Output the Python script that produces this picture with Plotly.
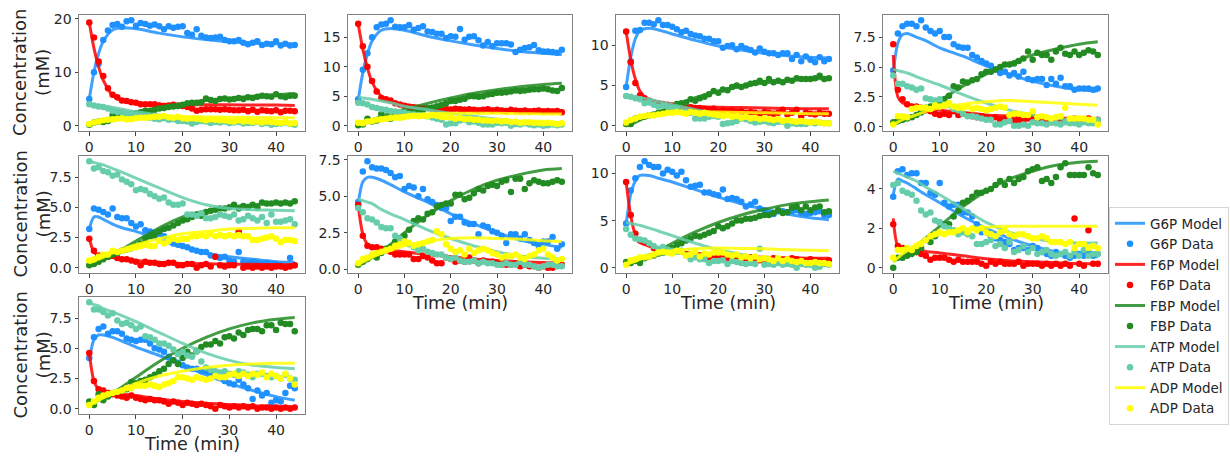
import plotly.graph_objects as go

time_min = [0, 1, 2, 3, 4, 5, 6, 7, 8, 9, 10, 11, 12, 13, 14, 15, 16, 17, 18, 19, 20, 21,
            22, 23, 24, 25, 26, 27, 28, 29, 30, 31, 32, 33, 34, 35, 36, 37, 38, 39, 40, 41, 42, 43, 44]
model_time = [0, 1, 2, 3, 5, 7, 10, 15, 20, 25, 30, 35, 40, 44]

species = ["G6P", "F6P", "FBP", "ATP", "ADP"]
colors = ["#1E90FF", "#FF0000", "#228B22", "#66CDAA", "#FFFF00"]
dticks = [10, 5, 5, 2.5, 2.5, 2.5, 5, 2, 2.5]

g6p_data = [
    [5.0,10.0,11.6,16.0,17.8, 18.8,19.0,18.5,19.5,19.7, 18.7,19.2,19.0,18.7,18.9, 18.6,18.0,18.6,18.3,18.5, 18.6,17.3,17.0,18.0,16.8, 16.5,16.4,16.5,16.6,16.0, 15.8,15.8,16.0,15.5,15.2, 15.5,15.8,15.1,15.3,15.2, 15.8,15.0,15.3,15.0,15.1],
    [4.5,9.5,12.3,15.0,16.7, 17.2,17.3,17.9,16.8,16.7, 16.7,17.1,16.3,16.6,16.9, 16.0,15.9,15.6,15.6,14.9, 15.2,15.1,16.4,14.6,15.1, 15.2,14.5,13.6,14.2,13.5, 14.0,14.0,14.0,13.8,12.5, 12.9,13.2,13.3,13.7,12.8, 12.6,12.6,12.5,12.4,12.9],
    [4.8,8.0,11.8,11.9,12.8, 12.8,12.6,13.1,12.5,12.5, 12.3,12.0,11.6,11.8,11.4, 11.2,11.1,10.8,10.8,10.5, 10.5,9.7,9.9,10.0,9.5, 9.9,9.6,9.4,9.1,9.6, 9.2,9.0,9.0,8.8,9.0, 9.0,8.3,8.8,8.0,8.6, 8.2,7.9,8.5,8.0,8.3],
    [4.7,7.8,8.4,8.6,8.6, 8.4,8.9,8.3,8.0,7.8, 8.0,7.5,7.5,6.9,6.7, 6.6,6.6,6.0,5.8,5.5, 5.3,5.1,4.8,4.5,4.6, 4.3,4.5,4.2,4.6,4.0, 3.9,4.0,4.0,3.5,4.0, 3.6,4.1,3.4,3.4,3.1, 3.2,3.2,3.2,3.1,3.2],
    [3.2,4.9,4.8,4.6,4.4, 4.9,4.2,4.1,4.1,3.7, 3.4,3.6,3.1,3.0,2.9, 2.8,2.6,2.3,2.0,1.9, 1.8,1.7,1.5,1.4,1.3, 1.3,1.0,0.9,0.8,0.9, 0.6,0.5,1.3,0.5,0.4, 0.5,0.4,0.3,0.4,0.3, 0.3,0.2,0.1,0.8,0.2],
    [4.6,6.7,7.4,7.0,6.9, 6.9,6.8,6.6,6.3,6.4, 5.5,5.7,5.6,5.0,5.5, 4.8,4.6,4.4,4.2,4.2, 3.3,3.6,3.6,3.2,3.1, 3.1,2.4,3.0,2.9,2.6, 2.5,2.3,1.8,2.4,2.4, 2.1,2.4,2.0,1.8,1.6, 1.9,1.9,2.2,1.4,1.7],
    [4.7,8.2,9.5,10.7,11.3, 10.9,10.7,10.7,10.0,10.4, 10.2,9.8,10.2,9.3,8.6, 8.7,8.8,8.0,8.0,7.8, 7.7,8.3,7.3,7.4,7.3, 7.0,6.5,6.7,7.0,6.3, 6.1,5.7,5.7,6.0,6.0, 5.9,6.0,6.1,5.8,5.7, 5.8,5.9,6.0,5.6,5.6],
    [3.6,4.9,5.0,4.7,4.8, 4.8,4.3,4.3,3.8,3.7, 4.3,3.3,3.1,3.2,3.2, 2.8,2.8,2.6,2.2,1.8, 1.8,1.6,1.5,1.4,1.3, 1.2,0.9,1.0,1.0,0.9, 1.1,1.0,0.8,0.7,0.6, 0.8,0.7,0.6,0.5,0.6, 0.7,0.6,0.8,0.6,0.7],
    [4.2,5.9,6.6,6.8,6.2, 6.4,6.4,6.2,5.8,5.7, 5.6,5.7,5.7,5.4,5.0, 4.9,4.7,4.3,4.0,3.8, 3.6,3.4,3.3,3.3,3.1, 3.1,2.8,2.7,2.8,2.3, 2.1,2.0,2.4,2.0,1.7, 0.8,1.5,1.1,1.3,0.5, 0.7,0.6,1.3,1.9,1.7],
]
f6p_data = [
    [19.3,16.5,12.0,9.3,7.0, 5.8,5.3,4.7,4.6,4.4, 4.3,4.0,4.0,4.0,4.0, 3.8,3.7,3.8,3.9,3.8, 3.7,3.5,3.2,2.8,3.0, 3.1,3.1,3.1,3.0,3.1, 3.0,2.9,2.9,3.0,2.7, 3.0,2.6,2.9,2.8,2.7, 2.9,2.5,2.8,2.8,2.7],
    [17.3,13.5,10.0,7.6,5.8, 4.7,4.5,4.3,3.8,3.6, 3.4,3.2,3.1,3.0,3.0, 3.0,2.9,2.8,2.9,2.8, 2.7,2.9,2.8,2.7,2.8, 2.7,2.6,2.7,2.8,2.6, 2.7,2.6,2.5,2.7,2.6, 2.5,2.6,2.4,2.5,2.6, 2.4,2.5,2.4,2.5,2.3],
    [11.7,7.9,5.3,3.8,3.4, 3.1,2.9,2.8,2.7,2.6, 2.5,2.4,2.4,2.3,2.3, 2.2,2.2,2.1,2.0,2.1, 1.8,1.9,1.8,1.9,1.7, 1.8,1.6,1.7,1.6,1.5, 1.7,1.6,1.5,1.6,2.0, 1.4,1.6,2.0,1.2,1.6, 1.5,1.4,1.6,1.5,1.5],
    [6.9,3.1,2.3,1.9,1.7, 1.7,1.6,1.4,1.3,1.1, 1.0,1.1,1.0,1.3,1.0, 1.1,1.0,0.9,0.8,0.9, 0.8,0.7,0.8,0.6,0.7, 0.9,0.5,0.6,0.5,0.7, 0.8,0.6,0.5,0.6,0.4, 0.5,0.7,0.5,0.6,0.7, 0.5,0.6,0.7,0.5,0.6],
    [2.4,1.4,1.0,0.9,0.9, 1.0,0.8,0.7,0.7,0.6, 0.5,0.2,0.5,0.4,0.4, 0.3,0.3,0.4,0.4,0.2, 0.2,0.3,0.3,0.0,0.2, 0.3,0.1,0.9,0.2,0.1, 0.2,0.2,3.0,0.0,0.1, 0.0,0.1,0.0,0.1,0.0, 0.1,0.1,0.0,0.1,0.2],
    [4.4,2.3,1.6,1.5,1.5, 1.4,1.3,1.2,1.0,1.0, 1.0,1.0,0.7,0.7,0.9, 0.8,0.6,0.4,0.4,0.8, 0.7,0.5,0.6,0.5,0.8, 0.6,0.4,0.6,0.5,0.5, 0.4,0.3,0.3,0.3,0.4, 0.2,0.3,0.2,0.2,0.1, 0.2,0.1,0.1,0.4,0.3],
    [9.1,5.6,3.6,2.9,2.7, 2.5,2.1,1.9,2.0,1.7, 1.9,1.8,1.7,1.4,1.3, 1.2,1.3,1.2,1.1,1.2, 1.0,1.3,1.0,1.1,1.2, 1.0,0.9,1.1,1.0,0.8, 0.9,0.7,1.0,0.9,0.8, 0.7,1.0,0.9,0.8,0.7, 0.9,0.8,0.7,0.6,0.8],
    [2.2,1.1,1.0,0.9,0.9, 0.8,0.7,0.6,0.4,0.5, 0.5,0.5,0.4,0.3,0.4, 0.3,0.3,0.3,0.3,0.2, 0.1,0.3,0.2,0.3,0.2, 0.2,0.2,0.3,0.1,0.2, 0.2,0.2,0.1,0.2,0.1, 0.2,0.1,0.2,0.1,2.5, 0.2,0.1,1.9,0.2,0.2],
    [4.6,2.3,1.6,1.5,1.3, 1.2,1.1,1.0,0.9,1.1, 0.9,0.8,0.7,0.8,0.7, 0.7,0.6,0.4,0.6,0.5, 0.3,0.5,0.4,0.3,0.4, 0.3,0.2,0.0,0.3,0.2, 0.1,0.2,0.1,0.2,0.1, 0.2,0.0,0.1,0.1,0.0, 0.1,0.0,0.1,0.0,0.1],
]
fbp_data = [
    [0.2,0.6,0.8,0.7,0.9, 2.0,1.8,1.9,2.0,2.2, 2.3,2.5,2.8,2.7,3.0, 3.2,3.3,3.5,3.6,3.7, 3.9,4.2,4.3,4.3,4.4, 5.1,4.8,4.6,5.0,5.1, 4.9,5.0,5.2,5.0,5.3, 5.2,5.4,5.6,5.5,5.4, 5.9,5.5,5.3,5.6,5.6],
    [0.1,0.2,1.2,0.7,0.9, 2.0,1.3,1.2,1.6,1.8, 2.1,2.2,2.3,2.4,2.7, 3.0,3.1,3.3,3.5,3.8, 4.2,4.2,4.4,4.6,5.0, 5.0,4.9,5.0,5.3,5.4, 5.6,5.6,5.7,5.8,6.0, 5.9,6.0,6.1,6.2,6.2, 6.3,6.2,6.0,5.9,6.4],
    [0.2,0.2,0.9,1.0,1.1, 1.3,1.4,1.6,1.7,2.0, 2.1,2.7,2.8,2.9,3.3, 3.1,3.4,3.6,3.9,4.3, 4.1,4.5,4.4,4.8,5.0, 4.8,5.0,5.2,5.3,5.6, 5.3,5.8,5.4,5.6,5.4, 5.7,5.6,5.9,5.8,5.8, 5.8,5.9,6.2,5.8,5.9],
    [0.4,0.5,0.6,0.7,0.8, 1.0,1.2,1.6,1.7,1.9, 2.1,2.3,2.6,3.4,3.3, 3.8,3.7,3.9,4.0,4.4, 4.6,4.6,4.8,5.0,5.2, 5.2,5.3,5.5,5.7,6.3, 5.6,6.2,6.0,6.0,5.6, 6.3,6.6,6.1,6.0,6.3, 6.0,6.2,6.4,6.3,6.0],
    [0.2,0.3,0.5,0.7,0.9, 1.1,1.2,1.4,1.5,1.6, 1.8,2.0,2.4,2.6,2.7, 3.0,3.2,3.3,3.5,3.7, 3.9,4.0,4.2,4.4,4.3, 4.6,4.7,4.8,4.9,4.9, 5.0,5.2,4.9,5.1,5.0, 5.2,5.0,5.4,5.3,5.3, 5.4,5.3,5.4,5.3,5.5],
    [0.3,0.5,0.7,0.9,0.8, 1.1,1.4,1.5,1.9,2.1, 2.3,2.7,3.3,3.5,3.4, 3.8,3.9,4.3,4.4,4.5, 4.5,5.1,5.1,4.8,4.9, 5.2,5.5,5.4,5.7,5.8, 5.7,6.0,6.1,5.3,6.2, 6.2,5.5,5.9,6.1,6.0, 5.9,5.9,6.0,6.1,6.0],
    [0.6,0.5,0.7,0.5,1.0, 1.2,1.3,1.5,1.6,1.9, 2.1,2.4,2.6,2.9,3.1, 3.4,3.3,3.5,3.7,3.9, 4.4,4.2,4.4,4.7,5.0, 5.0,5.2,5.2,5.3,5.5, 5.6,5.6,5.8,6.1,5.8, 5.9,6.4,6.5,6.1,6.5, 6.1,6.4,6.5,5.9,6.0],
    [0.0,0.5,0.5,0.6,0.7, 0.8,1.0,1.4,1.3,1.6, 2.3,2.2,2.2,2.6,2.9, 3.3,3.4,3.6,3.8,3.8, 3.9,4.0,4.2,4.4,4.2, 4.5,4.3,4.5,4.6,4.9, 5.0,5.1,4.4,4.5,4.3, 4.6,5.1,5.3,4.7,4.7, 4.7,4.7,5.1,4.8,4.7],
    [0.6,0.3,1.2,0.7,1.0, 1.3,1.4,1.5,1.6,2.2, 2.1,2.3,2.4,2.6,2.8, 3.1,3.3,3.7,4.0,3.7, 4.2,4.7,4.4,4.8,5.1, 5.3,5.3,5.6,5.4,5.9, 6.0,5.8,6.3,6.1,6.5, 6.6,6.6,6.4,6.9,6.9, 6.5,7.1,7.0,7.0,6.4],
]
atp_data = [
    [4.0,3.8,3.6,3.5,3.2, 2.8,2.6,2.5,2.3,2.1, 2.0,1.8,1.7,1.5,1.3, 1.2,1.4,1.1,1.2,0.9, 0.9,0.8,0.4,0.7,0.9, 0.8,0.5,0.7,0.6,0.8, 0.5,0.6,0.7,0.4,0.5, 0.5,0.7,0.3,0.5,0.2, 0.3,0.4,0.6,0.3,0.2],
    [3.9,3.8,3.6,3.2,3.0, 2.8,2.7,2.5,2.4,2.3, 2.2,2.0,1.9,1.8,1.7, 1.6,1.4,1.2,1.0,0.2, 0.4,0.4,0.9,1.0,0.6, 0.7,0.5,0.2,0.2,0.2, 0.5,0.4,0.5,0.0,0.3, 0.2,0.4,0.2,0.1,0.2, 0.0,0.1,0.2,0.1,0.2],
    [3.7,3.6,3.4,3.3,2.8, 2.9,2.6,2.4,2.5,2.4, 2.2,2.1,1.8,1.7,1.6, 0.9,0.9,0.9,1.1,1.2, 1.1,0.2,0.3,0.4,0.6, 0.9,0.8,0.6,0.4,0.5, 0.6,0.4,0.3,0.5,0.5, 0.0,0.3,0.2,0.2,0.2, 0.4,0.3,0.4,0.3,0.3],
    [4.3,3.6,3.6,3.4,3.3, 3.1,3.2,2.4,2.3,2.2, 2.3,1.9,1.8,1.5,1.4, 1.1,0.9,0.9,0.8,0.7, 0.6,0.6,0.2,0.2,0.4, 0.5,0.1,0.1,0.2,0.1, 0.4,0.3,0.3,0.2,0.4, 0.3,0.2,0.4,0.3,0.3, 0.2,0.4,0.3,0.3,0.6],
    [8.8,8.2,8.3,8.0,7.9, 7.6,7.7,7.3,7.1,6.9, 6.4,6.5,6.4,6.1,5.9, 5.7,5.8,5.4,5.2,5.2, 5.3,4.4,4.4,4.3,4.5, 4.1,4.1,4.2,4.4,4.3, 4.2,4.4,3.9,4.0,4.3, 4.1,3.9,4.2,3.7,4.4, 3.8,3.8,3.9,4.0,3.6],
    [4.2,3.9,3.5,3.4,3.2, 2.9,2.8,2.8,2.3,2.1, 1.9,1.7,1.5,1.3,1.4, 1.2,1.1,1.0,1.0,0.8, 0.7,0.8,0.6,0.5,0.5, 0.6,0.4,0.5,0.4,0.4, 0.3,0.3,0.4,0.3,0.3, 0.5,0.3,0.3,0.2,0.1, 0.2,0.3,0.3,0.2,0.2],
    [4.1,3.5,3.1,3.0,2.9, 2.6,2.3,2.0,2.2,1.9, 1.8,1.7,1.8,1.3,0.9, 1.1,0.9,0.9,0.5,0.7, 0.7,0.8,0.4,0.7,0.6, 0.5,0.4,0.5,0.4,2.0, 0.3,0.4,0.3,0.5,0.3, 0.4,0.3,0.0,0.4,0.3, 0.3,0.0,0.1,0.4,0.3],
    [4.2,4.3,3.9,3.8,3.7, 3.4,2.9,2.7,2.8,2.4, 2.3,2.1,2.0,1.9,1.7, 1.8,1.7,1.6,1.2,1.2, 1.3,1.4,1.1,1.2,1.0, 1.3,0.8,0.9,1.1,0.8, 1.0,0.7,0.8,0.9,0.7, 0.6,0.7,0.8,0.6,0.8, 0.6,0.9,0.6,0.7,0.7],
    [8.8,8.2,8.2,8.0,7.7, 7.9,7.3,7.0,7.1,6.9, 6.6,6.8,6.0,5.9,5.7, 5.4,5.4,5.2,4.9,4.5, 4.7,4.4,4.3,4.7,3.9, 3.4,3.2,3.1,3.0,3.1, 2.9,2.8,3.1,3.0,2.8, 2.6,2.9,2.9,2.7,2.6, 2.7,2.5,2.8,2.5,2.4],
]
adp_data = [
    [0.3,0.6,0.8,1.0,1.1, 1.2,1.3,1.4,1.2,1.2, 1.4,1.5,1.5,1.6,1.7, 1.7,1.8,1.6,1.5,1.7, 1.4,1.3,1.4,1.3,1.2, 1.0,1.2,1.1,1.0,1.0, 0.9,0.8,1.0,0.8,0.9, 0.7,0.8,0.6,0.8,0.7, 0.6,0.5,0.7,0.4,0.5],
    [0.5,0.4,0.7,0.8,1.0, 1.1,1.2,1.3,1.4,1.3, 1.5,1.6,1.7,1.6,1.7, 1.6,1.8,1.7,1.5,1.5, 1.4,1.2,1.3,1.1,1.2, 1.0,1.0,0.9,0.9,0.8, 0.9,0.7,0.8,0.6,0.7, 0.5,0.6,0.6,0.5,0.5, 0.4,0.5,0.4,0.3,0.4],
    [0.4,0.7,0.9,1.1,1.2, 1.3,1.3,1.4,1.5,1.6, 1.6,1.7,1.6,1.5,1.7, 1.6,1.5,1.6,1.5,1.4, 1.3,1.2,1.3,1.1,1.2, 1.0,1.1,0.9,1.0,0.8, 0.9,0.8,0.7,0.8,0.6, 0.7,0.6,0.5,0.6,0.5, 0.4,0.5,0.4,0.3,0.3],
    [0.2,0.9,0.9,0.8,1.5, 1.6,1.6,1.6,1.5,1.8, 1.7,1.8,2.0,1.7,1.6, 1.6,1.7,1.5,1.6,1.5, 1.4,1.5,1.6,1.7,1.6, 1.0,1.1,1.1,1.0,1.0, 1.3,0.8,0.9,0.8,0.7, 0.8,0.9,1.6,0.7,0.7, 0.7,0.7,0.6,0.6,0.2],
    [0.6,0.7,0.9,1.1,1.1, 1.4,1.3,1.4,1.5,1.6, 1.7,1.8,1.9,1.8,1.8, 2.2,2.0,2.2,2.4,2.3, 2.4,2.4,2.6,2.6,2.7, 2.6,2.8,2.6,2.7,2.6, 2.7,2.6,2.7,2.6,2.6, 2.3,2.3,2.4,2.5,2.6, 2.4,2.1,2.3,2.3,2.2],
    [0.4,0.7,0.8,1.0,1.1, 1.2,1.3,1.4,1.6,1.7, 1.9,1.8,1.6,1.7,1.8, 1.9,2.0,2.6,2.4,1.7, 1.4,1.2,1.3,1.0,1.4, 1.1,1.3,1.4,1.3,1.1, 1.0,0.8,0.9,0.9,1.0, 0.8,0.7,0.9,1.0,1.3, 1.4,1.0,0.8,0.6,0.7],
    [0.3,0.8,0.9,1.1,1.1, 1.2,1.4,1.6,1.7,1.6, 1.5,1.8,1.7,1.3,1.4, 1.7,1.2,1.5,1.4,1.6, 1.6,1.6,1.4,1.3,1.4, 1.1,1.2,1.0,1.2,0.9, 1.0,0.9,0.7,1.0,0.7, 0.9,0.7,0.6,0.7,0.5, 0.5,0.6,0.5,0.5,0.4],
    [0.5,0.9,0.9,1.0,0.9, 1.1,1.2,1.4,1.6,1.7, 1.8,1.7,1.8,1.8,1.9, 2.0,1.8,2.0,1.9,2.0, 1.8,1.7,1.6,1.8,1.9, 1.7,1.6,1.7,1.7,1.6, 1.5,1.5,1.6,1.5,1.3, 1.3,1.3,1.2,1.3,1.0, 1.2,1.2,1.0,1.1,1.0],
    [0.3,0.6,0.9,1.1,1.2, 1.3,1.4,1.5,1.7,1.7, 1.9,1.9,1.9,2.0,1.9, 1.8,2.0,2.1,2.3,2.6, 2.6,2.5,2.4,2.6,2.5, 2.4,2.5,2.7,2.6,2.6, 2.8,2.9,2.7,2.9,2.7, 2.9,2.8,3.0,2.6,2.9, 2.7,2.5,2.9,2.5,2.0],
]

g6p_model = [
    [5.0, 10.0, 13.5, 15.8, 17.9, 18.3, 18.1, 17.3, 16.6, 16.1, 15.7, 15.4, 15.3, 15.2],
    [4.3, 9.0, 12.2, 14.4, 16.2, 16.5, 16.2, 15.2, 14.4, 13.7, 13.1, 12.6, 12.3, 12.1],
    [4.8, 8.5, 10.8, 11.8, 12.1, 11.9, 11.4, 10.6, 9.9, 9.4, 9.0, 8.7, 8.5, 8.4],
    [4.5, 7.0, 7.7, 7.8, 7.5, 7.2, 6.6, 5.9, 5.1, 4.4, 3.8, 3.4, 3.1, 3.0],
    [3.2, 4.2, 4.2, 4.0, 3.6, 3.3, 3.0, 2.3, 1.7, 1.2, 0.9, 0.7, 0.5, 0.45],
    [4.5, 6.0, 6.3, 6.3, 6.1, 5.8, 5.3, 4.6, 3.8, 3.1, 2.5, 2.0, 1.7, 1.5],
    [4.6, 7.8, 9.2, 9.8, 9.8, 9.5, 9.1, 8.3, 7.5, 6.8, 6.2, 5.7, 5.3, 5.1],
    [3.7, 4.5, 4.4, 4.3, 4.0, 3.7, 3.3, 2.6, 2.0, 1.5, 1.1, 0.8, 0.6, 0.55],
    [4.0, 5.7, 6.1, 6.1, 5.9, 5.6, 5.1, 4.4, 3.6, 2.8, 2.1, 1.5, 1.0, 0.7],
]
f6p_model = [
    [19.3, 14.5, 11.0, 8.5, 5.7, 4.6, 4.2, 4.0, 3.95, 3.9, 3.9, 3.85, 3.85, 3.8],
    [17.3, 13.0, 9.8, 7.4, 5.0, 4.1, 3.6, 3.2, 3.0, 2.9, 2.8, 2.7, 2.65, 2.6],
    [11.7, 8.2, 5.8, 4.3, 3.1, 2.8, 2.6, 2.4, 2.3, 2.25, 2.2, 2.15, 2.1, 2.1],
    [6.0, 2.5, 2.0, 1.9, 1.7, 1.55, 1.4, 1.2, 1.0, 0.9, 0.8, 0.75, 0.72, 0.7],
    [2.4, 1.3, 1.0, 0.95, 0.85, 0.75, 0.6, 0.45, 0.35, 0.32, 0.3, 0.28, 0.26, 0.25],
    [4.4, 2.4, 1.7, 1.5, 1.4, 1.3, 1.2, 1.0, 0.85, 0.7, 0.6, 0.5, 0.45, 0.4],
    [9.1, 5.5, 3.5, 2.7, 2.3, 2.1, 1.8, 1.5, 1.3, 1.2, 1.1, 1.05, 1.0, 1.0],
    [2.5, 1.1, 1.0, 0.97, 0.9, 0.82, 0.75, 0.6, 0.45, 0.35, 0.3, 0.25, 0.2, 0.2],
    [4.6, 2.3, 1.6, 1.4, 1.3, 1.2, 1.1, 0.8, 0.6, 0.45, 0.35, 0.25, 0.2, 0.15],
]
fbp_model = [
    [0.0, 0.3, 0.6, 0.9, 1.4, 1.9, 2.5, 3.4, 4.1, 4.7, 5.1, 5.5, 5.8, 6.0],
    [0.0, 0.3, 0.7, 1.0, 1.6, 2.1, 2.8, 3.8, 4.7, 5.5, 6.1, 6.6, 7.0, 7.2],
    [0.0, 0.2, 0.4, 0.7, 1.2, 1.7, 2.4, 3.5, 4.3, 4.9, 5.3, 5.6, 5.8, 5.9],
    [0.2, 0.35, 0.5, 0.65, 1.1, 1.5, 2.2, 3.4, 4.4, 5.3, 6.0, 6.5, 6.9, 7.1],
    [0.1, 0.3, 0.5, 0.7, 1.0, 1.5, 2.2, 3.3, 4.2, 4.7, 5.0, 5.2, 5.35, 5.4],
    [0.2, 0.4, 0.6, 0.8, 1.2, 1.7, 2.5, 3.7, 4.7, 5.5, 6.1, 6.5, 6.8, 6.9],
    [0.3, 0.5, 0.7, 0.9, 1.3, 1.8, 2.6, 3.8, 4.8, 5.6, 6.2, 6.7, 7.0, 7.2],
    [0.3, 0.45, 0.6, 0.75, 1.1, 1.5, 2.1, 3.1, 3.9, 4.5, 4.9, 5.2, 5.35, 5.4],
    [0.3, 0.5, 0.7, 0.9, 1.3, 1.8, 2.6, 3.9, 5.0, 5.9, 6.6, 7.1, 7.4, 7.55],
]
atp_model = [
    [4.0, 3.9, 3.8, 3.7, 3.4, 3.1, 2.6, 2.0, 1.5, 1.2, 1.0, 0.8, 0.7, 0.6],
    [4.8, 4.7, 4.6, 4.5, 4.2, 3.9, 3.3, 2.7, 2.1, 1.6, 1.1, 0.7, 0.5, 0.4],
    [3.7, 3.65, 3.6, 3.5, 3.3, 3.0, 2.6, 2.0, 1.5, 1.1, 0.8, 0.6, 0.5, 0.4],
    [4.8, 4.7, 4.6, 4.5, 4.2, 3.9, 3.5, 2.7, 2.0, 1.4, 1.0, 0.7, 0.6, 0.5],
    [8.8, 8.7, 8.6, 8.5, 8.2, 7.9, 7.4, 6.6, 5.8, 5.2, 4.9, 4.8, 4.75, 4.7],
    [4.8, 4.7, 4.6, 4.5, 4.1, 3.8, 3.4, 2.7, 2.1, 1.6, 1.2, 0.9, 0.75, 0.7],
    [4.8, 4.7, 4.6, 4.5, 4.2, 3.9, 3.4, 2.6, 1.9, 1.4, 1.0, 0.8, 0.6, 0.5],
    [4.9, 4.8, 4.7, 4.6, 4.4, 4.1, 3.7, 3.0, 2.3, 1.8, 1.5, 1.3, 1.25, 1.25],
    [8.8, 8.6, 8.5, 8.3, 8.0, 7.7, 7.2, 6.3, 5.4, 4.6, 4.0, 3.6, 3.4, 3.3],
]
adp_model = [
    [0.3, 0.5, 0.7, 0.9, 1.2, 1.4, 1.6, 1.7, 1.7, 1.65, 1.6, 1.55, 1.5, 1.5],
    [0.5, 0.7, 0.9, 1.0, 1.3, 1.5, 1.8, 2.0, 2.1, 2.1, 2.1, 2.05, 2.0, 2.0],
    [0.4, 0.6, 0.8, 1.0, 1.3, 1.45, 1.6, 1.7, 1.7, 1.65, 1.6, 1.55, 1.5, 1.5],
    [0.2, 0.4, 0.6, 0.75, 1.0, 1.3, 1.6, 1.9, 2.1, 2.2, 2.1, 2.0, 1.9, 1.8],
    [0.4, 0.55, 0.7, 0.85, 1.2, 1.5, 1.9, 2.4, 2.8, 3.0, 3.2, 3.25, 3.3, 3.3],
    [0.3, 0.5, 0.65, 0.8, 1.1, 1.3, 1.6, 1.9, 2.1, 2.15, 2.1, 2.05, 1.95, 1.9],
    [0.3, 0.5, 0.7, 0.9, 1.3, 1.5, 1.8, 2.0, 2.1, 2.05, 2.0, 1.9, 1.85, 1.8],
    [0.3, 0.5, 0.7, 0.85, 1.2, 1.45, 1.7, 1.95, 2.05, 2.1, 2.1, 2.1, 2.1, 2.1],
    [0.3, 0.5, 0.7, 0.9, 1.3, 1.6, 2.1, 2.7, 3.1, 3.4, 3.6, 3.7, 3.75, 3.75],
]

data_sets = [g6p_data, f6p_data, fbp_data, atp_data, adp_data]
model_sets = [g6p_model, f6p_model, fbp_model, atp_model, adp_model]
for ds in data_sets:
    for lst in ds:
        assert len(lst) == len(time_min), len(lst)
for ms in model_sets:
    for lst in ms:
        assert len(lst) == len(model_time), len(lst)

W, H = 1230, 456
col_px = [(79, 305), (348, 572), (616, 839), (883, 1108)]
row_px = [(15, 131), (156, 273), (297, 414)]
TXT = "#262626"

fig = go.Figure()
layout = dict(width=W, height=H, margin=dict(l=0, r=0, t=0, b=0),
              paper_bgcolor="white", plot_bgcolor="white",
              font=dict(family="DejaVu Sans", color=TXT),
              showlegend=True,
              legend=dict(x=1109 / W, y=1 - 207 / H, xanchor="left", yanchor="top",
                          bordercolor="#d5d5d5", borderwidth=1, bgcolor="white",
                          font=dict(size=13.5, family="DejaVu Sans", color=TXT),
                          tracegroupgap=0, itemwidth=30))
annotations = []

for p in range(9):
    r, c = p // 4, p % 4
    k = p + 1
    xa = "x" if k == 1 else f"x{k}"
    ya = "y" if k == 1 else f"y{k}"
    allv = []
    for s in range(5):
        md = model_sets[s][p]
        dd = data_sets[s][p]
        allv += md + dd
        fig.add_trace(go.Scatter(
            x=model_time, y=md, mode="lines", name=f"{species[s]} Model",
            line=dict(color=colors[s], width=3, shape="spline", smoothing=0.8),
            opacity=0.85, xaxis=xa, yaxis=ya, legendgroup=f"{species[s]}m",
            showlegend=(p == 0), hoverinfo="skip"))
        fig.add_trace(go.Scatter(
            x=time_min, y=dd, mode="markers", name=f"{species[s]} Data",
            marker=dict(color=colors[s], size=6.5, line=dict(width=0)),
            xaxis=xa, yaxis=ya, legendgroup=f"{species[s]}d",
            showlegend=(p == 0)))
    lo, hi = min(allv), max(allv)
    pad = 0.05 * (hi - lo)
    x0, x1 = col_px[c]
    y0, y1 = row_px[r]
    axis_common = dict(showline=True, mirror=True, linecolor="#808080", linewidth=1,
                       ticks="outside", ticklen=3.5, tickcolor="#444", tickwidth=1,
                       showgrid=False, zeroline=False, automargin=False,
                       tickfont=dict(size=14, color=TXT))
    layout["xaxis" if k == 1 else f"xaxis{k}"] = dict(
        domain=[x0 / W, x1 / W], anchor=ya, range=[-2.2, 46.2],
        tick0=0, dtick=10, **axis_common)
    fmt = ".1f" if dticks[p] == 2.5 else "d"
    layout["yaxis" if k == 1 else f"yaxis{k}"] = dict(
        domain=[1 - y1 / H, 1 - y0 / H], anchor=xa, range=[lo - pad, hi + pad],
        tick0=0, dtick=dticks[p], tickformat=fmt, **axis_common)
    if c == 0:
        annotations.append(dict(text="Concentration<br>(mM)", textangle=-90,
                                x=31 / W, y=1 - (y0 + y1) / 2 / H, xref="paper", yref="paper",
                                xanchor="center", yanchor="middle",
                                showarrow=False, font=dict(size=18, color=TXT)))
    if p >= 5:
        annotations.append(dict(text="Time (min)", x=(x0 + x1) / 2 / W, y=1 - (y1 + 30) / H,
                                xref="paper", yref="paper", xanchor="center", yanchor="middle",
                                showarrow=False, font=dict(size=17.5, color=TXT)))

layout["annotations"] = annotations
fig.update_layout(**layout)
fig.write_html("out.html")
